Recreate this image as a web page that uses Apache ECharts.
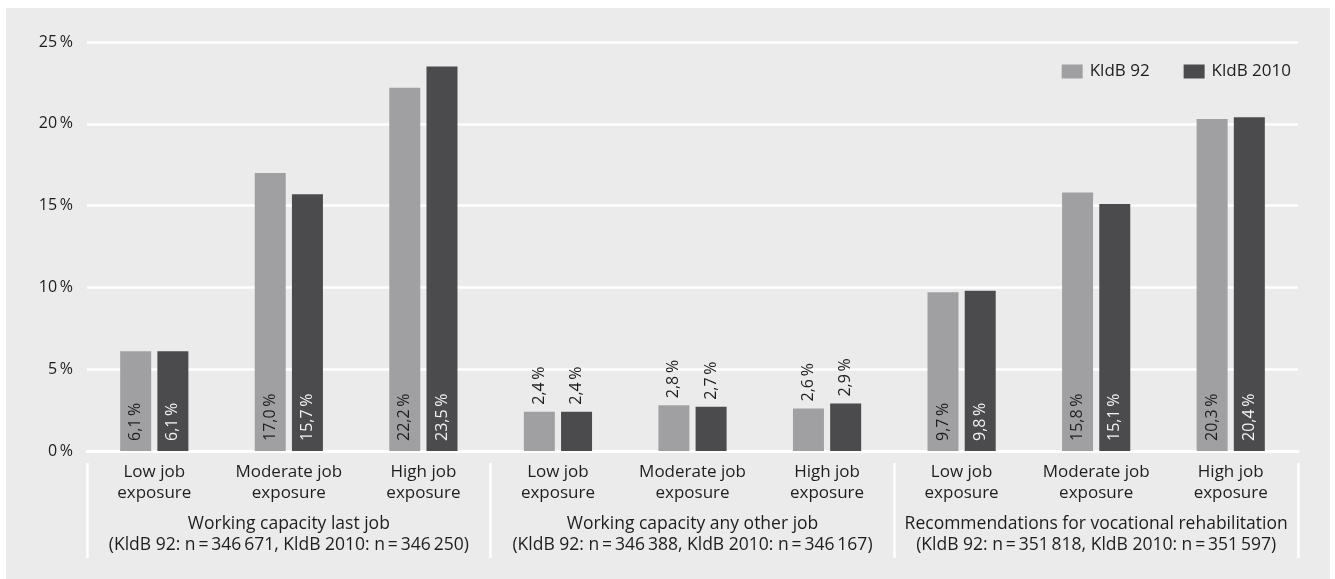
<!DOCTYPE html>
<html>
<head>
<meta charset="utf-8">
<script src="https://cdn.jsdelivr.net/npm/echarts@6/dist/echarts.min.js"></script>
<style>
html,body{margin:0;padding:0;background:#fff;}
#c{width:1335px;height:579px;}
</style>
</head>
<body>
<div id="c"></div>
<script>
const categories = [
  'Low job\nexposure','Moderate job\nexposure','High job\nexposure',
  'Low job\nexposure','Moderate job\nexposure','High job\nexposure',
  'Low job\nexposure','Moderate job\nexposure','High job\nexposure'
];
const groups = [
  'Working capacity last job\n(KldB 92: n\u2009=\u2009346\u2009671, KldB 2010: n\u2009=\u2009346\u2009250)',
  'Working capacity any other job\n(KldB 92: n\u2009=\u2009346\u2009388, KldB 2010: n\u2009=\u2009346\u2009167)',
  'Recommendations for vocational rehabilitation\n(KldB 92: n\u2009=\u2009351\u2009818, KldB 2010: n\u2009=\u2009351\u2009597)'
];
const seriesNames = ['KldB 92', 'KldB 2010'];
const kldb92 = [6.1, 17.0, 22.2, 2.4, 2.8, 2.6, 9.7, 15.8, 20.3];
const kldb2010 = [6.1, 15.7, 23.5, 2.4, 2.7, 2.9, 9.8, 15.1, 20.4];
const yTicks = [0, 5, 10, 15, 20, 25];

const FONT = 'Open Sans';
const TXT = '#1e1e1e';
const fmt = v => v.toFixed(1).replace('.', ',') + '\u2009%';

function mkData(vals, insideColor) {
  return vals.map(v => {
    const small = v < 5;
    return {
      value: v,
      label: small ? {
        position: 'top', rotate: 90, align: 'left', verticalAlign: 'middle',
        distance: 7, color: TXT
      } : {
        position: 'insideBottom', rotate: 90, align: 'left', verticalAlign: 'middle',
        distance: 10, color: insideColor
      }
    };
  });
}

const chart = echarts.init(document.getElementById('c'));
chart.setOption({
  backgroundColor: '#ffffff',
  animation: false,
  textStyle: { fontFamily: FONT },
  graphic: [{
    type: 'rect', z: -10, silent: true,
    shape: { x: 6, y: 8, width: 1324, height: 571 },
    style: { fill: '#ebebeb' }
  }],
  legend: {
    right: 39, top: 58,
    itemWidth: 21, itemHeight: 14, itemGap: 34,
    icon: 'rect',
    textStyle: { fontFamily: FONT, fontSize: 17, color: TXT, padding: [0, 0, 0, 2] },
    data: seriesNames
  },
  grid: { left: 87, right: 37, top: 42, bottom: 128, containLabel: false },
  xAxis: [{
    type: 'category', data: categories, position: 'bottom',
    axisLine: { show: true, lineStyle: { color: '#ffffff', width: 3 } },
    axisTick: { show: false },
    axisLabel: { interval: 0, fontFamily: FONT, fontSize: 17, lineHeight: 21, color: TXT, margin: 11 }
  }, {
    type: 'category', data: groups, position: 'bottom', offset: 12,
    axisLine: { show: false },
    axisTick: { show: true, alignWithLabel: false, interval: 0, inside: false, length: 95,
      lineStyle: { color: '#ffffff', width: 2.5 } },
    axisLabel: { interval: 0, fontFamily: FONT, fontSize: 17.5, lineHeight: 21, color: TXT, margin: 51 }
  }],
  yAxis: {
    type: 'value', min: 0, max: 25, interval: 5,
    axisLine: { show: false }, axisTick: { show: false },
    splitLine: { lineStyle: { color: '#ffffff', width: 2.5 } },
    axisLabel: { formatter: v => v + '\u2009%', fontFamily: FONT, fontSize: 16, color: TXT, margin: 14 }
  },
  series: [{
    name: seriesNames[0], type: 'bar', xAxisIndex: 0,
    barWidth: 31, barGap: '20%',
    itemStyle: { color: '#a0a0a3' },
    label: { show: true, formatter: p => fmt(p.value), fontFamily: FONT, fontSize: 16 },
    data: mkData(kldb92, '#1e1e1e')
  }, {
    name: seriesNames[1], type: 'bar', xAxisIndex: 0,
    barWidth: 31, barGap: '20%',
    itemStyle: { color: '#4b4b4d' },
    label: { show: true, formatter: p => fmt(p.value), fontFamily: FONT, fontSize: 16 },
    data: mkData(kldb2010, '#f2f2f2')
  }]
});
</script>
</body>
</html>
